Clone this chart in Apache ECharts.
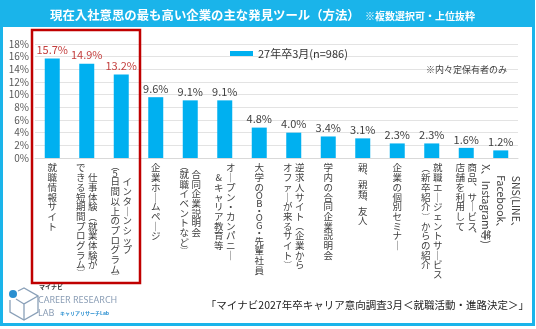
<!DOCTYPE html>
<html><head><meta charset="utf-8">
<script src="https://cdn.jsdelivr.net/npm/echarts@6/dist/echarts.min.js"></script>
<style>html,body{margin:0;padding:0;background:#fff}#c{width:536px;height:329px}</style>
</head><body><div id="c"></div>
<script>
// ---- data ----
const categories = [
  '就職情報サイト',
  '仕事体験(就業体験が\nできる短期間プログラム)',
  'インターンシップ\n(5日間以上のプログラム)',
  '企業ホームページ',
  '合同企業説明会\n(就職イベントなど)',
  'オープン・カンパニー\n&キャリア教育等',
  '大学のOB・OG・先輩社員',
  '逆求人サイト(企業から\nオファーが来るサイト)',
  '学内の合同企業説明会',
  '親、親類、友人',
  '企業の個別セミナー',
  '就職エージェントサービス\n(新卒紹介)からの紹介',
  '商品、サービス、\n店舗を利用して',
  'SNS(LINE、\nFacebook、\nX、Instagram等)'
];
const values = [15.7, 14.9, 13.2, 9.6, 9.1, 9.1, 4.8, 4.0, 3.4, 3.1, 2.3, 2.3, 1.6, 1.2];
const highlightCount = 3;
const seriesName = '27年卒3月(n=986)';
const yMin = 0, yMax = 18, yInterval = 2;
const titleText = '現在入社意思の最も高い企業の主な発見ツール（方法）';
const subtitleText = '※複数選択可・上位抜粋';
const noteText = '※内々定保有者のみ';
const sourceText = '「マイナビ2027年卒キャリア意向調査3月＜就職活動・進路決定＞」';

// ---- styling ----
const FONT = '"Noto Sans CJK JP", "Noto Sans", sans-serif';
const BLUE = '#00b0f0';
const FRAME = '#1ab4ea';
const RED = '#c4403f';
const LABEL = '#404040';

const vmap = {'(':'︵','（':'︵',')':'︶','）':'︶','ー':'｜','、':'︑'};
function isRotated(s){ return s.indexOf('SNS') === 0; }
function styleOf(ch){
  if (ch === '　') return 'e';
  if (ch === '︵' || ch === '︶') return 'p';
  if (ch === '︑' || ch === '・') return 's';
  if (/[ -~]/.test(ch)) return 'h';
  return 'c';
}
function verticalLabel(str){
  const cols = str.split('\n').map(c => Array.from(c).map(ch => vmap[ch] || ch));
  const N = Math.max(...cols.map(c => c.length));
  const padded = cols.map(c => {
    const top = Math.floor((N - c.length) / 2);
    return Array(top).fill('　').concat(c).concat(Array(N - c.length - top).fill('　'));
  });
  const lines = [];
  for (let k = 0; k < N; k++) {
    let s = '';
    for (let j = padded.length - 1; j >= 0; j--) {
      const ch = padded[j][k];
      s += '{' + styleOf(ch) + '|' + ch + '}';
    }
    lines.push(s);
  }
  return lines.join('\n');
}
const base = {width: 12, align: 'center', fontSize: 9.5, color: LABEL, fontFamily: FONT};

const chart = echarts.init(document.getElementById('c'), null, {renderer: 'canvas'});
chart.setOption({
  animation: false,
  textStyle: {fontFamily: FONT},
  legend: {
    left: 225, top: 43,
    itemWidth: 23, itemHeight: 5, itemGap: 4,
    textStyle: {fontSize: 11, color: '#333', fontFamily: FONT},
    data: [{name: seriesName, icon: 'rect'}]
  },
  grid: {left: 35, right: 18, top: 44, bottom: 171, containLabel: false},
  xAxis: [{
    type: 'category', data: categories,
    axisTick: {show: false},
    axisLine: {lineStyle: {color: '#d9d9d9'}},
    axisLabel: {
      interval: 0, margin: 5, verticalAlign: 'top',
      formatter: v => isRotated(v) ? '' : verticalLabel(v),
      rich: {
        c: Object.assign({}, base, {lineHeight: 9.7}),
        h: Object.assign({}, base, {lineHeight: 7.5}),
        s: Object.assign({}, base, {lineHeight: 7}),
        p: Object.assign({}, base, {lineHeight: 6.5, fontSize: 8.5}),
        e: Object.assign({}, base, {lineHeight: 1})
      }
    }
  }, {
    type: 'category', data: categories, position: 'bottom', gridIndex: 0,
    axisTick: {show: false}, axisLine: {show: false}, splitLine: {show: false},
    axisLabel: {
      interval: 0, margin: 5, rotate: -90,
      formatter: v => isRotated(v) ? v.split('\n').map(l => '{r|' + l + '}').join('\n') : '',
      rich: {r: {width: 82, align: 'center', fontSize: 10.5, lineHeight: 15, color: LABEL, fontFamily: FONT}}
    }
  }],
  yAxis: {
    type: 'value', min: yMin, max: yMax, interval: yInterval,
    axisLine: {show: false}, axisTick: {show: false},
    splitLine: {lineStyle: {color: '#e3e3e3'}},
    axisLabel: {formatter: '{value}%', fontSize: 10, color: '#595959', margin: 6}
  },
  series: [{
    name: seriesName, type: 'bar', xAxisIndex: 0, barWidth: 15,
    itemStyle: {color: BLUE},
    label: {
      show: true, position: 'top', distance: 3, fontSize: 11, fontFamily: FONT,
      formatter: p => p.value.toFixed(1) + '%'
    },
    data: values.map((v, i) => ({value: v, label: {color: i < highlightCount ? RED : LABEL}}))
  }],
  graphic: [
    {type: 'rect', shape: {x: 1.5, y: 1.5, width: 532, height: 323}, style: {fill: 'none', stroke: FRAME, lineWidth: 3}, z: 10},
    {type: 'rect', shape: {x: 0, y: 0, width: 535, height: 27}, style: {fill: FRAME}, z: 10},
    {type: 'text', x: 50, y: 15, style: {text: titleText, fill: '#fff', font: 'bold 12.4px ' + FONT, textVerticalAlign: 'middle'}, z: 11},
    {type: 'text', x: 365, y: 16, style: {text: subtitleText, fill: '#fff', font: 'bold 10px ' + FONT, textVerticalAlign: 'middle'}, z: 11},
    {type: 'rect', shape: {x: 32, y: 30, width: 108, height: 253}, style: {fill: 'none', stroke: '#c00000', lineWidth: 2.5}, z: 10},
    {type: 'text', x: 426, y: 70, style: {text: noteText, fill: '#404040', font: '9px ' + FONT, textVerticalAlign: 'middle'}, z: 11},
    {type: 'text', x: 529, y: 305, style: {text: sourceText, fill: '#222', font: '10.5px ' + FONT, textAlign: 'right', textVerticalAlign: 'middle'}, z: 11},
    // logo
    {type: 'polyline', shape: {points: [[18,291],[24,288],[38,296],[38,312],[24,320],[10,312],[10,300]]}, style: {fill: 'none', stroke: '#8aa0b8', lineWidth: 1.3}, z: 11},
    {type: 'polyline', shape: {points: [[24,320],[24,304],[38,296]]}, style: {fill: 'none', stroke: '#8aa0b8', lineWidth: 1.3}, z: 11},
    {type: 'polyline', shape: {points: [[24,304],[16,299]]}, style: {fill: 'none', stroke: '#8aa0b8', lineWidth: 1.3}, z: 11},
    {type: 'circle', shape: {cx: 13, cy: 294, r: 4}, style: {fill: '#2a8fd0'}, z: 12},
    {type: 'text', x: 39, y: 287, style: {text: 'マイナビ', fill: '#333', font: 'bold 6px ' + FONT, textVerticalAlign: 'middle'}, z: 11},
    {type: 'text', x: 38, y: 300, style: {text: 'CAREER RESEARCH', fill: '#8a9db5', font: '9px "Noto Sans", sans-serif', textVerticalAlign: 'middle'}, z: 11},
    {type: 'text', x: 38, y: 313, style: {text: 'LAB', fill: '#8a9db5', font: '9px "Noto Sans", sans-serif', textVerticalAlign: 'middle'}, z: 11},
    {type: 'text', x: 60, y: 313, style: {text: 'キャリアリサーチLab', fill: '#2a8fd0', font: 'bold 5px ' + FONT, textVerticalAlign: 'middle'}, z: 11}
  ]
});
</script></body></html>
